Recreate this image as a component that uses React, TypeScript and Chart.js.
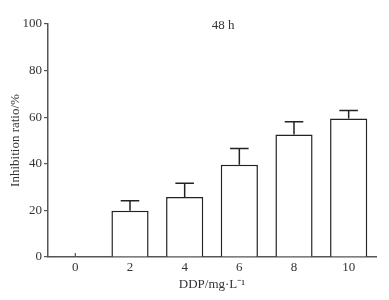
import React, { useEffect, useRef } from "react";
import { Chart, registerables } from "chart.js";

Chart.register(...registerables);

const categories = ["0", "2", "4", "6", "8", "10"];
const values = [0, 19.8, 25.7, 39.6, 52.6, 59.4];
const errors = [0, 4.3, 6.0, 7.0, 5.4, 3.5];
const yTicks = [0, 20, 40, 60, 80, 100];
const panelTitle = "48 h";
const yTitle = "Inhibition ratio/%";
const xTitle = "DDP/mg·L⁻¹";

const FONT = "'Liberation Serif', 'Times New Roman', serif";
const AXIS = "#555555";
const TEXT = "#333333";

const innerTicks = {
  id: "innerTicks",
  beforeDatasetsDraw(chart: any) {
    const x = chart.scales.x;
    const y = chart.scales.y;
    const ctx = chart.ctx;
    ctx.save();
    ctx.strokeStyle = AXIS;
    ctx.lineWidth = 1.2;
    const base = y.getPixelForValue(0);
    categories.forEach((_, i) => {
      const px = x.getPixelForValue(i);
      ctx.beginPath();
      ctx.moveTo(px, base);
      ctx.lineTo(px, base - 4);
      ctx.stroke();
    });
    ctx.restore();
  },
};

const errorBars = {
  id: "errorBars",
  afterDatasetsDraw(chart: any) {
    const y = chart.scales.y;
    const meta = chart.getDatasetMeta(0);
    const ctx = chart.ctx;
    ctx.save();
    ctx.strokeStyle = "#222222";
    ctx.lineWidth = 1.5;
    meta.data.forEach((bar: any, i: number) => {
      if (!errors[i]) return;
      const top = y.getPixelForValue(values[i]);
      const up = y.getPixelForValue(values[i] + errors[i]);
      const half = bar.width / 4;
      ctx.beginPath();
      ctx.moveTo(bar.x, top);
      ctx.lineTo(bar.x, up);
      ctx.moveTo(bar.x - half, up);
      ctx.lineTo(bar.x + half, up);
      ctx.stroke();
    });
    ctx.restore();
  },
};

const panelLabel = {
  id: "panelLabel",
  afterDraw(chart: any) {
    const { left, right, top } = chart.chartArea;
    const ctx = chart.ctx;
    ctx.save();
    ctx.font = `13px ${FONT}`;
    ctx.fillStyle = TEXT;
    ctx.textAlign = "center";
    ctx.textBaseline = "middle";
    ctx.fillText(panelTitle, left + (right - left) * 0.534, top + 2);
    ctx.restore();
  },
};

export default function App() {
  const ref = useRef<HTMLCanvasElement | null>(null);
  useEffect(() => {
    if (!ref.current) return;
    const chart = new Chart(ref.current, {
      type: "bar",
      data: {
        labels: categories,
        datasets: [
          {
            data: values,
            backgroundColor: "#ffffff",
            borderColor: "#222222",
            borderWidth: 1.5,
            borderSkipped: "bottom",
            categoryPercentage: 1,
            barPercentage: 0.68,
          },
        ],
      },
      options: {
        animation: false,
        responsive: false,
        maintainAspectRatio: false,
        layout: { padding: { left: 0, right: 13, top: 24, bottom: 8 } },
        plugins: { legend: { display: false }, tooltip: { enabled: false }, title: { display: false } },
        scales: {
          x: {
            afterFit: (s: any) => {
              s.height = 35;
            },
            grid: { display: false, drawTicks: false },
            border: { color: AXIS, width: 1.5 },
            ticks: { color: TEXT, font: { family: FONT, size: 13 }, padding: 3 },
            title: {
              display: true,
              text: xTitle,
              color: TEXT,
              font: { family: FONT, size: 13 },
              padding: { top: 0, bottom: 0 },
            },
          },
          y: {
            min: 0,
            max: 100,
            afterFit: (s: any) => {
              s.width = 48;
            },
            afterBuildTicks: (s: any) => {
              s.ticks = yTicks.map((v) => ({ value: v }));
            },
            grid: { drawOnChartArea: false, drawTicks: true, tickLength: 4, color: AXIS, lineWidth: 1.2 },
            border: { color: AXIS, width: 1.5 },
            ticks: { color: TEXT, font: { family: FONT, size: 13 }, padding: 2 },
            title: {
              display: true,
              text: yTitle,
              color: TEXT,
              font: { family: FONT, size: 13 },
              padding: { top: 8, bottom: 0 },
            },
          },
        },
      },
      plugins: [innerTicks, errorBars, panelLabel],
    });
    return () => chart.destroy();
  }, []);
  return (
    <div style={{ position: "fixed", left: 0, top: 0, width: 389, height: 300, background: "#fff" }}>
      <canvas ref={ref} width={389} height={300} style={{ width: 389, height: 300 }} />
    </div>
  );
}
